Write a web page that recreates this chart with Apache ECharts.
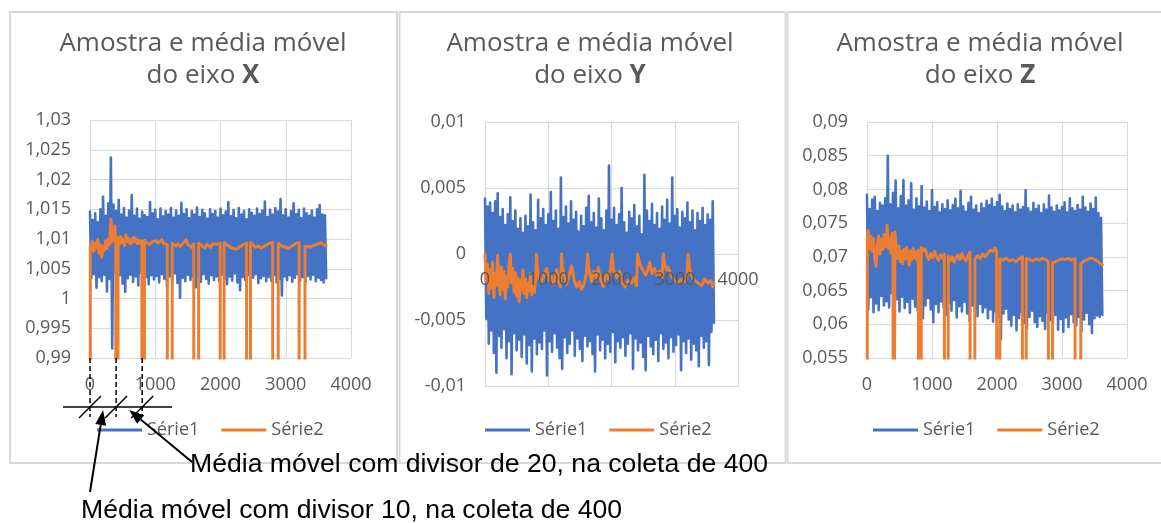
<!DOCTYPE html>
<html>
<head>
<meta charset="utf-8">
<script src="https://cdn.jsdelivr.net/npm/echarts@6/dist/echarts.min.js"></script>
<style>
  html, body { margin: 0; padding: 0; background: #ffffff; }
  #chart { width: 1161px; height: 523px; }
</style>
</head>
<body>
<div id="chart"></div>
<script>
// Readings are stored every SAMPLE_STEP samples (sample index on the x axis).
const SAMPLE_STEP = 20;

// Axis ranges and tick spacing
const sampleAxis = { min: 0, max: 4000, interval: 1000 };
const yRangeX = { min: 0.99, max: 1.03, interval: 0.005 };
const yRangeY = { min: -0.01, max: 0.01, interval: 0.005 };
const yRangeZ = { min: 0.055, max: 0.09, interval: 0.005 };

const seriesNames = ['Série1', 'Série2'];
const axisNames = ['X', 'Y', 'Z'];

// Série1: raw readings (X axis), one value every SAMPLE_STEP samples
const serie1X = [
  1.0146,1.0034, 1.0132,1.0041, 1.0143,1.0018, 1.0128,1.0036, 1.0150,1.0029,
  1.0171,1.0040, 1.0139,1.0012, 1.0160,1.0033, 1.0237,0.9916, 1.0158,1.0042,
  1.0147,1.0031, 1.0166,1.0039, 1.0141,1.0025, 1.0152,1.0011, 1.0136,1.0034,
  1.0148,1.0040, 1.0174,1.0028, 1.0139,1.0037, 1.0151,1.0022, 1.0134,1.0043,
  1.0146,1.0030, 1.0140,1.0036, 1.0137,1.0024, 1.0162,1.0039, 1.0143,1.0032,
  1.0149,1.0038, 1.0133,1.0027, 1.0151,1.0041, 1.0138,1.0033, 1.0147,1.0020,
  1.0141,1.0037, 1.0152,1.0030, 1.0136,1.0042, 1.0148,1.0026, 1.0139,1.0001,
  1.0161,1.0035, 1.0142,1.0029, 1.0150,1.0040, 1.0135,1.0031, 1.0147,1.0036,
  1.0141,1.0019, 1.0153,1.0038, 1.0137,1.0028, 1.0149,1.0041, 1.0143,1.0033,
  1.0134,1.0025, 1.0150,1.0039, 1.0142,1.0031, 1.0147,1.0037, 1.0136,1.0029,
  1.0151,1.0040, 1.0140,1.0032, 1.0146,1.0024, 1.0162,1.0037, 1.0138,1.0030,
  1.0149,1.0042, 1.0135,1.0027, 1.0152,1.0014, 1.0141,1.0036, 1.0147,1.0031,
  1.0133,1.0039, 1.0150,1.0028, 1.0144,1.0035, 1.0139,1.0041, 1.0151,1.0026,
  1.0142,1.0034, 1.0148,1.0038, 1.0163,1.0029, 1.0137,1.0036, 1.0149,1.0030,
  1.0141,1.0040, 1.0152,1.0027, 1.0146,1.0033, 1.0167,1.0005, 1.0140,1.0037,
  1.0150,1.0031, 1.0136,1.0039, 1.0147,1.0028, 1.0160,1.0035, 1.0142,1.0041,
  1.0149,1.0030, 1.0135,1.0036, 1.0151,1.0026, 1.0143,1.0038, 1.0139,1.0032,
  1.0148,1.0040, 1.0136,1.0029, 1.0150,1.0035, 1.0157,1.0031, 1.0141,1.0027,
  1.0140,1.0034
];

// Série2: moving average (X axis) as [sample, value]; it restarts at 0 every 400 samples
const serie2X = [
  [0,0],[5,1.0090],[20,1.0082],[40,1.0096],[60,1.0079],[80,1.0093],[100,1.0085],[120,1.0099],
  [140,1.0076],[160,1.0090],[180,1.0069],[200,1.0088],[220,1.0081],[240,1.0097],[260,1.0084],
  [280,1.0100],[300,1.0091],[320,1.0133],[340,1.0095],[360,1.0104],[380,1.0122],[395,1.0098],
  [400,0],[425,0],[430,1.0102],[450,1.0091],[470,1.0104],[490,1.0094],[510,1.0100],[530,1.0089],
  [550,1.0107],[570,1.0096],[590,1.0101],[610,1.0092],[630,1.0099],[650,1.0094],[670,1.0103],
  [690,1.0095],[710,1.0100],[730,1.0092],[750,1.0098],[770,1.0093],[795,1.0097],
  [800,0],[830,0],[835,1.0098],[860,1.0094],[890,1.0096],[920,1.0091],[950,1.0095],[980,1.0092],
  [1010,1.0097],[1040,1.0093],[1070,1.0095],[1100,1.0099],[1130,1.0092],[1160,1.0094],[1185,1.0091],
  [1190,0],[1255,0],[1260,1.0093],[1290,1.0090],[1320,1.0088],[1350,1.0092],[1380,1.0087],
  [1410,1.0091],[1440,1.0094],[1470,1.0099],[1500,1.0091],[1530,1.0088],[1560,1.0086],[1590,1.0092],
  [1595,0],[1660,0],[1665,1.0093],[1700,1.0090],[1730,1.0087],[1760,1.0085],[1790,1.0091],
  [1820,1.0088],[1850,1.0086],[1880,1.0092],[1910,1.0089],[1940,1.0091],[1970,1.0094],[1995,1.0093],
  [2000,0],[2050,0],[2055,1.0094],[2100,1.0090],[2150,1.0086],[2200,1.0084],[2250,1.0083],
  [2300,1.0087],[2350,1.0091],[2400,1.0093],
  [2405,0],[2455,0],[2460,1.0094],[2500,1.0090],[2540,1.0086],[2580,1.0088],[2620,1.0085],
  [2660,1.0087],[2700,1.0090],[2750,1.0093],[2800,1.0094],
  [2805,0],[2880,0],[2885,1.0093],[2920,1.0090],[2960,1.0087],[3000,1.0086],[3040,1.0084],
  [3080,1.0087],[3120,1.0090],[3160,1.0093],[3205,1.0094],
  [3210,0],[3290,0],[3295,1.0087],[3340,1.0088],[3380,1.0086],[3420,1.0089],[3460,1.0090],
  [3500,1.0092],[3540,1.0094],[3580,1.0090],[3620,1.0089]
];

// Série1: raw readings (Y axis)
const serie1Y = [
  0.0042,-0.0049, 0.0036,-0.0068, 0.0039,-0.0058, 0.0031,-0.0075, 0.0040,-0.0090,
  0.0046,-0.0062, 0.0028,-0.0071, 0.0034,-0.0057, 0.0022,-0.0079, 0.0030,-0.0066,
  0.0043,-0.0091, 0.0025,-0.0060, 0.0033,-0.0073, 0.0019,-0.0065, 0.0027,-0.0078,
  0.0016,-0.0061, 0.0029,-0.0083, 0.0021,-0.0069, 0.0045,-0.0089, 0.0024,-0.0064,
  0.0018,-0.0076, 0.0041,-0.0067, 0.0027,-0.0072, 0.0034,-0.0058, 0.0022,-0.0092,
  0.0030,-0.0066, 0.0047,-0.0074, 0.0025,-0.0060, 0.0033,-0.0071, 0.0019,-0.0079,
  0.0058,-0.0087, 0.0028,-0.0063, 0.0036,-0.0075, 0.0023,-0.0068, 0.0040,-0.0058,
  0.0026,-0.0077, 0.0032,-0.0064, 0.0017,-0.0072, 0.0029,-0.0081, 0.0021,-0.0062,
  0.0035,-0.0070, 0.0044,-0.0066, 0.0024,-0.0076, 0.0031,-0.0089, 0.0020,-0.0061,
  0.0042,-0.0073, 0.0027,-0.0065, 0.0018,-0.0079, 0.0033,-0.0068, 0.0067,-0.0074,
  0.0026,-0.0059, 0.0035,-0.0082, 0.0022,-0.0066, 0.0030,-0.0071, 0.0050,-0.0063,
  0.0024,-0.0077, 0.0016,-0.0068, 0.0032,-0.0060, 0.0027,-0.0087, 0.0037,-0.0064,
  0.0021,-0.0073, 0.0029,-0.0067, 0.0015,-0.0078, 0.0060,-0.0088, 0.0033,-0.0062,
  0.0025,-0.0070, 0.0038,-0.0076, 0.0022,-0.0065, 0.0031,-0.0081, 0.0019,-0.0060,
  0.0036,-0.0072, 0.0026,-0.0067, 0.0041,-0.0079, 0.0023,-0.0063, 0.0058,-0.0074,
  0.0029,-0.0069, 0.0034,-0.0061, 0.0020,-0.0088, 0.0032,-0.0066, 0.0027,-0.0075,
  0.0039,-0.0064, 0.0024,-0.0080, 0.0033,-0.0068, 0.0018,-0.0073, 0.0031,-0.0085,
  0.0025,-0.0062, 0.0035,-0.0071, 0.0022,-0.0066, 0.0030,-0.0084, 0.0026,-0.0059,
  0.0040,-0.0052
];

// Série2: moving average (Y axis) as [sample, value]
const serie2Y = [
  [0,0.0000],[20,-0.0021],[40,-0.0008],[60,-0.0030],[80,-0.0012],[100,-0.0026],[120,-0.0006],
  [140,-0.0033],[160,-0.0015],[180,-0.0024],[200,-0.0001],[220,-0.0019],[240,-0.0031],[260,-0.0010],
  [280,-0.0027],[300,-0.0013],[320,-0.0034],[340,-0.0017],[360,-0.0025],[380,-0.0009],[400,0.0000],
  [420,-0.0022],[440,-0.0011],[460,-0.0029],[480,-0.0014],[500,-0.0032],[520,-0.0018],[540,-0.0036],
  [560,-0.0020],[580,-0.0027],[600,-0.0012],[620,-0.0030],[640,-0.0019],[660,-0.0033],[680,-0.0022],
  [700,-0.0028],[720,-0.0015],[740,-0.0031],[760,-0.0024],[780,-0.0029],[800,-0.0020],[815,0.0000],
  [830,-0.0012],[860,-0.0019],[895,-0.0021],[935,-0.0016],[974,-0.0011],[1010,-0.0020],[1053,-0.0017],
  [1090,-0.0023],[1132,-0.0012],[1170,-0.0022],[1195,-0.0025],[1210,0.0000],[1225,-0.0010],
  [1260,-0.0018],[1290,-0.0023],[1330,-0.0016],[1369,-0.0009],[1410,-0.0020],[1448,-0.0025],
  [1490,-0.0021],[1527,-0.0027],[1570,-0.0022],[1606,-0.0014],[1622,0.0000],[1640,-0.0011],
  [1685,-0.0021],[1720,-0.0013],[1760,-0.0018],[1790,-0.0010],[1830,-0.0020],[1869,-0.0025],
  [1910,-0.0015],[1948,-0.0019],[1985,-0.0011],[2011,0.0000],[2030,-0.0012],[2080,-0.0018],
  [2130,-0.0013],[2170,-0.0021],[2211,-0.0025],[2260,-0.0020],[2317,-0.0022],[2360,-0.0018],
  [2396,-0.0024],[2411,0.0000],[2440,-0.0006],[2470,-0.0010],[2501,-0.0009],[2540,-0.0016],
  [2575,-0.0012],[2607,-0.0006],[2640,-0.0015],[2680,-0.0011],[2712,-0.0016],[2760,-0.0013],
  [2800,-0.0018],[2817,0.0000],[2840,-0.0008],[2870,-0.0012],[2896,-0.0010],[2950,-0.0017],
  [3000,-0.0020],[3054,-0.0022],[3100,-0.0019],[3150,-0.0021],[3186,-0.0020],[3211,0.0000],
  [3240,-0.0012],[3270,-0.0017],[3317,-0.0020],[3370,-0.0022],[3422,-0.0024],[3470,-0.0019],
  [3527,-0.0022],[3570,-0.0020],[3606,-0.0025],[3620,-0.0022]
];

// Série1: raw readings (Z axis)
const serie1Z = [
  0.0792,0.0622, 0.0771,0.0640, 0.0785,0.0618, 0.0789,0.0631, 0.0768,0.0621,
  0.0780,0.0642, 0.0776,0.0628, 0.0787,0.0634, 0.0850,0.0625, 0.0778,0.0646,
  0.0795,0.0630, 0.0813,0.0637, 0.0772,0.0619, 0.0790,0.0641, 0.0814,0.0624,
  0.0776,0.0633, 0.0784,0.0617, 0.0809,0.0638, 0.0770,0.0626, 0.0787,0.0621,
  0.0775,0.0635, 0.0805,0.0609, 0.0773,0.0628, 0.0782,0.0639, 0.0768,0.0622,
  0.0799,0.0603, 0.0774,0.0630, 0.0781,0.0618, 0.0766,0.0634, 0.0778,0.0625,
  0.0771,0.0614, 0.0784,0.0632, 0.0769,0.0620, 0.0777,0.0636, 0.0786,0.0610,
  0.0772,0.0627, 0.0798,0.0619, 0.0775,0.0633, 0.0767,0.0616, 0.0780,0.0605,
  0.0789,0.0628, 0.0770,0.0621, 0.0776,0.0612, 0.0765,0.0630, 0.0779,0.0618,
  0.0772,0.0625, 0.0783,0.0609, 0.0777,0.0622, 0.0786,0.0604, 0.0774,0.0619,
  0.0781,0.0611, 0.0792,0.0578, 0.0775,0.0616, 0.0768,0.0623, 0.0779,0.0607,
  0.0771,0.0598, 0.0776,0.0614, 0.0766,0.0591, 0.0778,0.0609, 0.0770,0.0618,
  0.0774,0.0602, 0.0799,0.0594, 0.0772,0.0611, 0.0767,0.0620, 0.0780,0.0603,
  0.0771,0.0596, 0.0776,0.0612, 0.0765,0.0605, 0.0778,0.0593, 0.0770,0.0617,
  0.0791,0.0606, 0.0773,0.0601, 0.0767,0.0614, 0.0776,0.0592, 0.0769,0.0608,
  0.0774,0.0589, 0.0781,0.0610, 0.0766,0.0596, 0.0787,0.0615, 0.0772,0.0603,
  0.0768,0.0598, 0.0777,0.0611, 0.0770,0.0590, 0.0789,0.0607, 0.0773,0.0617,
  0.0767,0.0600, 0.0779,0.0587, 0.0771,0.0609, 0.0788,0.0613, 0.0765,0.0611,
  0.0758,0.0614
];

// Série2: moving average (Z axis) as [sample, value]
const serie2Z = [
  [0,0],[5,0.0725],[20,0.0739],[40,0.0712],[60,0.0730],[80,0.0708],[100,0.0727],[120,0.0695],
  [140,0.0686],[160,0.0718],[180,0.0731],[200,0.0704],[220,0.0726],[240,0.0711],[260,0.0733],
  [280,0.0715],[300,0.0729],[310,0.0747],[330,0.0712],[350,0.0728],[370,0.0706],[385,0.0735],
  [400,0.0720],[405,0],[425,0],[430,0.0737],[450,0.0712],[470,0.0698],[490,0.0716],[510,0.0693],
  [530,0.0708],[550,0.0690],[570,0.0711],[590,0.0697],[610,0.0714],[630,0.0701],[650,0.0688],
  [670,0.0709],[690,0.0696],[710,0.0712],[730,0.0699],[750,0.0707],[770,0.0694],[790,0.0710],
  [795,0],[830,0],[835,0.0714],[860,0.0709],[890,0.0712],[920,0.0703],[950,0.0696],[980,0.0705],
  [1010,0.0699],[1040,0.0708],[1070,0.0700],[1100,0.0695],[1130,0.0703],[1160,0.0698],[1190,0.0704],
  [1195,0],[1245,0],[1250,0.0701],[1280,0.0694],[1310,0.0700],[1340,0.0692],[1370,0.0699],
  [1400,0.0703],[1430,0.0696],[1460,0.0705],[1490,0.0698],[1520,0.0694],[1550,0.0701],[1585,0.0707],
  [1590,0],[1655,0],[1660,0.0697],[1700,0.0702],[1740,0.0698],[1780,0.0704],[1820,0.0700],
  [1860,0.0706],[1900,0.0710],[1940,0.0708],[1970,0.0713],[1995,0.0709],
  [2000,0],[2040,0],[2045,0.0697],[2090,0.0695],[2140,0.0698],[2190,0.0694],[2240,0.0696],
  [2290,0.0693],[2340,0.0697],[2390,0.0700],
  [2395,0],[2445,0],[2450,0.0698],[2500,0.0696],[2550,0.0694],[2600,0.0697],[2650,0.0695],
  [2700,0.0698],[2750,0.0696],[2790,0.0693],
  [2795,0],[2850,0],[2855,0.0691],[2900,0.0693],[2950,0.0695],[3000,0.0697],[3050,0.0696],
  [3100,0.0698],[3150,0.0695],[3200,0.0697],
  [3205,0],[3285,0],[3290,0.0690],[3340,0.0694],[3390,0.0696],[3440,0.0698],[3490,0.0697],
  [3540,0.0694],[3580,0.0691],[3620,0.0688]
];

// Sample positions marked under the X chart (moving-average restarts)
const markedSamples = [0, 400, 800];
const noteDivisor20 = 'Média móvel com divisor de 20, na coleta de 400';
const noteDivisor10 = 'Média móvel com divisor 10, na coleta de 400';

// ---------------------------------------------------------------------------
const BLUE = '#4472C4';
const ORANGE = '#ED7D31';
const GRID_LINE = '#d9d9d9';
const TEXT = '#595959';
const FONT = '"Open Sans", "Noto Sans", sans-serif';
const NOTE_FONT = '26.6px "Liberation Sans", Arial, sans-serif';

const withSamples = values => values.map((v, i) => [i * SAMPLE_STEP, v]);
const decimalComma = v => String(parseFloat(Number(v).toFixed(4))).replace('.', ',');
const plainNumber = v => String(Math.round(v));

const gridBoxes = [
  { left: 90, top: 120, width: 261, height: 238 },
  { left: 485, top: 122, width: 253, height: 264 },
  { left: 867, top: 122, width: 260, height: 236 }
];
const titleCenters = [203, 590, 980];
const legendLefts = [97, 485, 873];
const yRanges = [yRangeX, yRangeY, yRangeZ];

const labelStyle = { fontFamily: FONT, fontSize: 18, color: TEXT };

function xAxisFor(gridIndex, opts) {
  return Object.assign({
    type: 'value', gridIndex: gridIndex, position: 'bottom',
    min: sampleAxis.min, max: sampleAxis.max, interval: sampleAxis.interval,
    axisLine: { show: false, onZero: false },
    axisTick: { show: false },
    axisLabel: Object.assign({ margin: 18, formatter: plainNumber }, labelStyle),
    splitLine: { show: true, lineStyle: { color: GRID_LINE, width: 1 } }
  }, opts || {});
}

// The middle chart's sample labels sit on its zero line: shift that axis up
// from the bottom edge by the distance between the bottom and the value 0.
const midBox = gridBoxes[1];
const zeroLift = midBox.height * (0 - yRangeY.min) / (yRangeY.max - yRangeY.min);

const xAxes = [
  xAxisFor(0),
  // labels drawn over the data
  xAxisFor(1, { z: 10, offset: -zeroLift,
                axisLabel: Object.assign({ margin: 17, formatter: plainNumber }, labelStyle),
                splitLine: { show: false } }),
  xAxisFor(1, { axisLabel: { show: false } }),
  xAxisFor(2)
];

const yAxes = yRanges.map((r, i) => ({
  type: 'value', gridIndex: i,
  min: r.min, max: r.max, interval: r.interval,
  axisLine: { show: false }, axisTick: { show: false },
  axisLabel: Object.assign({ margin: 19, formatter: decimalComma }, labelStyle),
  splitLine: { show: true, lineStyle: { color: GRID_LINE, width: 1 } }
}));

const rawSets = [serie1X, serie1Y, serie1Z];
const avgSets = [serie2X, serie2Y, serie2Z];
const xAxisOfPanel = [0, 1, 3];

const series = [];
for (let i = 0; i < 3; i++) {
  series.push({
    name: seriesNames[0], type: 'line', xAxisIndex: xAxisOfPanel[i], yAxisIndex: i,
    data: withSamples(rawSets[i]), symbol: 'none', showSymbol: false, clip: true,
    lineStyle: { color: BLUE, width: 2.6, join: 'round', cap: 'round' },
    itemStyle: { color: BLUE }, z: 2
  });
  series.push({
    name: seriesNames[1], type: 'line', xAxisIndex: xAxisOfPanel[i], yAxisIndex: i,
    data: avgSets[i], symbol: 'none', showSymbol: false, clip: true,
    lineStyle: { color: ORANGE, width: 3, join: 'round', cap: 'round' },
    itemStyle: { color: ORANGE }, z: 3
  });
}

const titles = axisNames.map((name, i) => ({
  text: 'Amostra e média móvel\ndo eixo {b|' + name + '}',
  left: titleCenters[i], top: 28, textAlign: 'center', padding: 0,
  textStyle: {
    fontFamily: FONT, fontSize: 26, fontWeight: 'normal', color: TEXT, lineHeight: 32,
    rich: { b: { fontFamily: FONT, fontSize: 26, fontWeight: 'bold', color: TEXT, lineHeight: 32 } }
  }
}));

const legends = legendLefts.map(left => ({
  data: seriesNames, left: left, top: 421, padding: 0,
  icon: 'rect', itemWidth: 45, itemHeight: 3, itemGap: 22,
  selectedMode: false,
  textStyle: { fontFamily: FONT, fontSize: 18, color: TEXT }
}));

const chart = echarts.init(document.getElementById('chart'), null, { renderer: 'canvas' });
chart.setOption({
  animation: false,
  backgroundColor: '#ffffff',
  title: titles,
  legend: legends,
  grid: gridBoxes.map(b => Object.assign({ containLabel: false }, b)),
  xAxis: xAxes,
  yAxis: yAxes,
  series: series
});

// ---- frames around each chart and the notes drawn beneath the X chart ----
const frame = (x, y, w, h) => ({
  type: 'rect', silent: true, z: 0,
  shape: { x: x, y: y, width: w, height: h },
  style: { fill: 'none', stroke: GRID_LINE, lineWidth: 2 }
});
const INK = '#000000';
const seg = (x1, y1, x2, y2, w, dash) => ({
  type: 'line', silent: true, z: 50,
  shape: { x1: x1, y1: y1, x2: x2, y2: y2 },
  style: { stroke: INK, lineWidth: w, lineDash: dash || null }
});
function arrow(tail, tip) {
  const dx = tip[0] - tail[0], dy = tip[1] - tail[1];
  const len = Math.sqrt(dx * dx + dy * dy);
  const ux = dx / len, uy = dy / len;
  const headLen = 15, half = 5.5;
  const bx = tip[0] - ux * headLen, by = tip[1] - uy * headLen;
  return [
    seg(tail[0], tail[1], bx, by, 2),
    { type: 'polygon', silent: true, z: 50,
      shape: { points: [tip, [bx - uy * half, by + ux * half], [bx + uy * half, by - ux * half]] },
      style: { fill: INK } }
  ];
}

const marks = markedSamples.map(s => chart.convertToPixel({ seriesIndex: 0 }, [s, yRangeX.min]));
const baseY = 407, dashEnd = 417;
const graphics = [
  frame(10, 12, 387, 451),
  frame(399.5, 12, 386, 451),
  frame(787.5, 12, 380, 451),
  seg(63, baseY, 172, baseY, 1.5)
];
marks.forEach(p => {
  graphics.push(seg(p[0], p[1], p[0], dashEnd, 1.5, [5, 3]));
  graphics.push(seg(p[0] - 11, baseY + 11, p[0] + 11, baseY - 11, 1.5));
});
const mid01 = (marks[0][0] + marks[1][0]) / 2;
const mid12 = (marks[1][0] + marks[2][0]) / 2;
graphics.push(...arrow([90, 492], [mid01, 410]));
graphics.push(...arrow([192, 462], [mid12, 410]));
graphics.push({
  type: 'text', silent: true, z: 50,
  style: { x: 190, y: 465, text: noteDivisor20, fill: INK, font: NOTE_FONT, verticalAlign: 'middle' }
});
graphics.push({
  type: 'text', silent: true, z: 50,
  style: { x: 81, y: 511, text: noteDivisor10, fill: INK, font: NOTE_FONT, verticalAlign: 'middle' }
});

chart.setOption({ graphic: graphics });
</script>
</body>
</html>
